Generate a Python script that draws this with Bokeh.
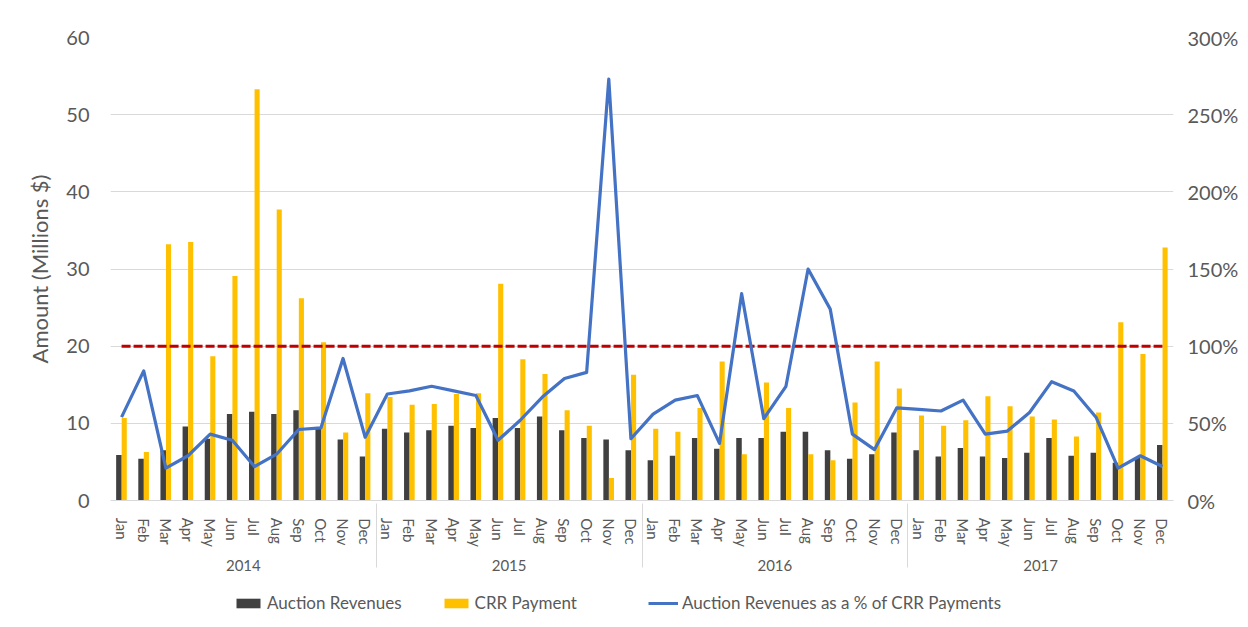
from bokeh.plotting import figure
from bokeh.layouts import column
from bokeh.models import (FactorRange, Range1d, LinearAxis, FixedTicker, NumeralTickFormatter,
                          Legend, LegendItem, ColumnDataSource)
from bokeh.transform import dodge
from bokeh.embed import file_html
from bokeh.resources import INLINE

years = ["2014", "2015", "2016", "2017"]
months = ["Jan", "Feb", "Mar", "Apr", "May", "Jun", "Jul", "Aug", "Sep", "Oct", "Nov", "Dec"]

auction_revenues = [
    5.9, 5.4, 6.5, 9.6, 8.0, 11.2, 11.5, 11.2, 11.7, 9.5, 7.9, 5.7,
    9.3, 8.8, 9.1, 9.7, 9.4, 10.7, 9.4, 10.9, 9.1, 8.1, 7.9, 6.5,
    5.2, 5.8, 8.1, 6.7, 8.1, 8.1, 8.9, 8.9, 6.5, 5.4, 6.0, 8.8,
    6.5, 5.7, 6.8, 5.7, 5.5, 6.2, 8.1, 5.8, 6.2, 4.9, 5.5, 7.2,
]
crr_payment = [
    10.7, 6.3, 33.2, 33.5, 18.7, 29.1, 53.3, 37.7, 26.2, 20.5, 8.8, 13.9,
    13.4, 12.4, 12.5, 13.8, 13.9, 28.1, 18.3, 16.4, 11.7, 9.7, 2.9, 16.3,
    9.3, 8.9, 12.0, 18.0, 6.0, 15.3, 12.0, 6.0, 5.2, 12.7, 18.0, 14.5,
    11.0, 9.7, 10.4, 13.5, 12.2, 10.9, 10.5, 8.3, 11.4, 23.1, 19.0, 32.8,
]
pct_of_crr = [
    54, 84, 21, 29, 43, 39, 22, 30, 46, 47, 92, 41,
    69, 71, 74, 71, 68, 39, 52, 67, 79, 83, 273, 40,
    56, 65, 68, 37, 134, 53, 74, 150, 124, 43, 33, 60,
    59, 58, 65, 43, 45, 57, 77, 71, 54, 21, 29, 22,
]
threshold_pct = 100

# leading no-break spaces give the rotated month labels the depth they have in the original
PAD = "\u00a0\u00a0"
factors = [(y, PAD + m) for y in years for m in months]

src = ColumnDataSource(dict(
    x=factors,
    auction=auction_revenues,
    crr=crr_payment,
    pct=[v / 100 for v in pct_of_crr],
    thr=[threshold_pct / 100] * len(factors),
))

FONT = "Lato"
GRAY = "#595959"
GRID = "#D9D9D9"
DARK = "#404040"
GOLD = "#FFC000"
BLUE = "#4472C4"
RED = "#C00000"

W = 1248
H1 = 588
p = figure(
    x_range=FactorRange(*factors, range_padding=0, group_padding=0, factor_padding=0, subgroup_padding=0),
    y_range=Range1d(0, 60),
    width=W, height=H1,
    output_backend="svg", toolbar_location=None,
    min_border_left=110, min_border_right=75, min_border_top=37, min_border_bottom=H1 - 500,
)
p.outline_line_color = None
p.extra_y_ranges = {"pct": Range1d(0, 3)}

p.vbar(x=dodge("x", -0.12, range=p.x_range), top="auction", width=0.25, source=src,
       fill_color=DARK, line_color=None)
p.vbar(x=dodge("x", 0.12, range=p.x_range), top="crr", width=0.23, source=src,
       fill_color=GOLD, line_color=None)
p.line(x="x", y="thr", source=src, y_range_name="pct", line_color=RED,
       line_width=3, line_dash="9 3")
p.line(x="x", y="pct", source=src, y_range_name="pct", line_color=BLUE,
       line_width=3.2, line_join="round")

# left axis
ya = p.yaxis[0]
ya.ticker = FixedTicker(ticks=[0, 10, 20, 30, 40, 50, 60])
ya.axis_label = "Amount (Millions $)"
ya.axis_label_text_font = FONT
ya.axis_label_text_font_size = "22px"
ya.axis_label_text_font_style = "normal"
ya.axis_label_text_color = GRAY
ya.axis_label_standoff = 10
ya.major_label_text_font = FONT
ya.major_label_text_font_size = "20px"
ya.major_label_text_color = GRAY
ya.major_label_standoff = 21
ya.axis_line_color = None
ya.major_tick_line_color = None
ya.minor_tick_line_color = None
ya.major_tick_out = 0
ya.major_tick_in = 0

# right axis
ra = LinearAxis(y_range_name="pct")
ra.ticker = FixedTicker(ticks=[0, 0.5, 1.0, 1.5, 2.0, 2.5, 3.0])
ra.formatter = NumeralTickFormatter(format="0%")
ra.major_label_text_font = FONT
ra.major_label_text_font_size = "20px"
ra.major_label_text_color = GRAY
ra.major_label_standoff = 14
ra.axis_line_color = None
ra.major_tick_line_color = None
ra.minor_tick_line_color = None
ra.major_tick_out = 0
ra.major_tick_in = 0
p.add_layout(ra, "right")

# category axis
xa = p.xaxis[0]
xa.major_label_orientation = "vertical"
xa.major_label_text_font = FONT
xa.major_label_text_font_size = "15px"
xa.major_label_text_color = GRAY
xa.major_label_standoff = 10
xa.group_text_font = FONT
xa.group_text_font_size = "15px"
xa.group_text_color = GRAY
xa.group_text_font_style = "normal"
xa.axis_line_color = GRID
xa.major_tick_line_color = None
xa.minor_tick_line_color = None
xa.major_tick_out = 0
xa.major_tick_in = 0
xa.separator_line_color = GRID
xa.separator_line_width = 1

p.xgrid.grid_line_color = None
p.ygrid.grid_line_color = GRID
p.ygrid.ticker = FixedTicker(ticks=[10, 20, 30, 40, 50, 60])

# legend strip
H2 = 36
lp = figure(width=W, height=H2, output_backend="svg", toolbar_location=None,
            x_range=Range1d(0, 1), y_range=Range1d(0, 1),
            x_axis_location=None, y_axis_location=None,
            min_border=0, min_border_left=0, min_border_right=0, min_border_top=0, min_border_bottom=0)
lp.outline_line_color = None
lp.grid.visible = False
offscreen = ColumnDataSource(dict(x=[-100], y=[-100]))
l_auc = lp.vbar(x="x", top="y", bottom=-101, width=0, source=offscreen, fill_color=DARK, line_color=None)
l_crr = lp.vbar(x="x", top="y", bottom=-101, width=0, source=offscreen, fill_color=GOLD, line_color=None)
l_pct = lp.line(x="x", y="y", source=offscreen, line_color=BLUE, line_width=3)


def style(lg):
    lg.label_text_font = FONT
    lg.label_text_font_size = "17px"
    lg.label_text_color = GRAY
    lg.border_line_color = None
    lg.background_fill_alpha = 0
    lg.glyph_width = 30
    lg.glyph_height = 12
    lg.spacing = 39
    lg.label_standoff = 4
    lg.padding = 0
    lg.margin = 0
    lg.orientation = "horizontal"


leg1 = Legend(items=[
    LegendItem(label="Auction Revenues", renderers=[l_auc]),
    LegendItem(label="CRR Payment", renderers=[l_crr]),
], location=(123, 11))
style(leg1)
leg2 = Legend(items=[
    LegendItem(label="Auction Revenues as a % of CRR Payments", renderers=[l_pct]),
], location=(538, 11))
style(leg2)
lp.add_layout(leg1, "center")
lp.add_layout(leg2, "center")

layout = column(p, lp, spacing=0)
html = file_html(layout, INLINE)
open("out.html", "w").write(html)
